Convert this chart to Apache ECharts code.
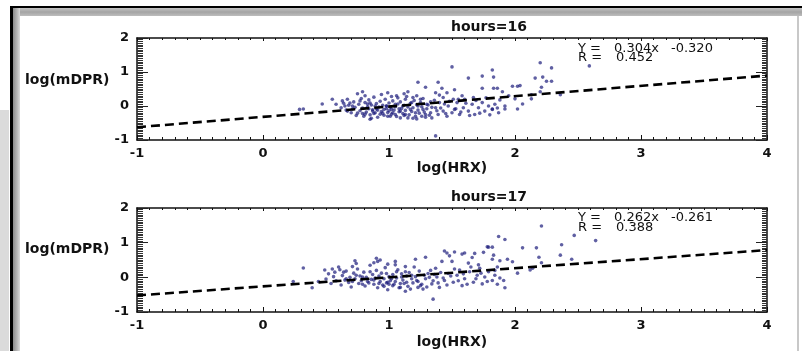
<!DOCTYPE html>
<html>
<head>
<meta charset="utf-8">
<script src="https://cdn.jsdelivr.net/npm/echarts@6/dist/echarts.min.js"></script>
<style>
html,body{margin:0;padding:0;background:#fff;}
#chart{width:802px;height:351px;}
</style>
</head>
<body>
<div id="chart"></div>
<script>
// ---------- data ----------
const panelTitles = ['hours=16', 'hours=17'];
const xAxisName = 'log(HRX)';
const yAxisName = 'log(mDPR)';
const xTicks = [-1, 0, 1, 2, 3, 4];
const yTicks = [-1, 0, 1, 2];
const fit16 = { slope: 0.304, intercept: -0.320, r: '0.452' };
const fit17 = { slope: 0.262, intercept: -0.261, r: '0.388' };

const points16 = [
[0.29,-0.10],[0.32,-0.09],[0.47,0.06],[0.55,0.20],[0.58,0.05],
[0.63,0.15],[0.67,0.20],[0.69,0.09],[0.65,0.00],[0.71,0.00],[0.71,-0.09],[0.75,0.36],[0.79,0.42],[0.81,0.30],
[0.77,0.15],[0.83,0.06],[0.85,0.09],[0.87,-0.15],[0.89,0.00],[0.90,-0.09],[0.93,-0.24],[0.95,-0.21],[0.98,0.00],
[0.99,-0.30],[0.85,-0.39],[0.81,-0.24],[0.75,-0.21],[0.67,-0.15],
[0.99,0.39],[1.07,0.24],[1.15,0.42],[1.22,0.30],[1.23,0.70],[1.29,0.55],[1.39,0.70],[1.42,0.52],[1.37,0.39],
[1.46,0.39],[1.52,0.48],[1.50,1.15],[1.63,0.82],[1.74,0.88],[1.82,1.06],[1.83,0.52],[1.74,0.52],[1.37,-0.88],
[0.98,0.00],[1.02,-0.10],[1.05,0.05],[1.09,-0.15],[1.11,0.00],[1.13,-0.25],[1.17,-0.10],[1.18,0.10],[1.21,-0.20],
[1.23,0.00],[1.26,-0.30],[1.27,-0.10],[1.30,0.05],[1.33,-0.20],[1.34,-0.35],[1.37,-0.05],[1.39,-0.25],[1.40,0.10],
[1.43,-0.15],[1.46,-0.30],[1.47,0.00],[1.50,-0.20],[1.52,-0.10],[1.54,0.10],[1.56,-0.25],[1.59,-0.05],[1.60,0.20],
[1.63,-0.15],[1.66,0.05],[1.68,-0.25],[1.71,-0.05],[1.74,0.10],[1.76,-0.15],[1.79,0.00],[1.82,-0.10],[1.84,0.05],
[1.05,-0.25],[1.09,-0.35],[1.01,-0.30],[1.15,-0.35],[1.22,-0.38],[1.29,-0.25],[1.25,0.20],[1.19,0.25],[1.13,0.20],
[1.06,0.30],[1.58,0.30],[1.51,0.20],[1.67,0.25],[1.43,0.25],
[0.62,-0.05],[0.64,0.08],[0.66,-0.12],[0.68,0.02],[0.70,-0.20],[0.72,0.12],[0.73,-0.04],[0.74,-0.28],[0.76,0.05],
[0.77,-0.14],[0.78,0.22],[0.79,-0.06],[0.80,-0.30],[0.81,0.10],[0.82,-0.18],[0.83,-0.02],[0.84,0.18],[0.85,-0.26],
[0.86,0.03],[0.87,-0.11],[0.88,0.26],[0.89,-0.20],[0.90,0.07],[0.91,-0.33],[0.92,-0.03],[0.93,0.14],[0.94,-0.16],
[0.95,0.02],[0.96,-0.27],[0.97,0.20],[0.98,-0.08],[0.99,-0.19],[1.00,0.09],[1.01,-0.04],[1.02,-0.24],[1.03,0.15],
[1.04,-0.12],[1.05,-0.02],[1.06,-0.31],[1.07,0.06],[1.08,-0.17],[1.09,0.12],[1.10,-0.07],[1.11,-0.22],[1.12,0.02],
[1.13,-0.13],[1.14,0.28],[1.15,-0.03],[1.16,-0.26],[1.17,0.08],[1.18,-0.16],[1.19,-0.05],[1.20,0.16],[1.21,-0.30],
[1.22,0.04],[1.23,-0.12],[1.24,-0.21],[1.25,0.10],[1.26,-0.02],[1.27,0.22],[1.28,-0.18],[1.30,-0.08],[1.31,0.03],
[1.32,-0.27],[1.33,0.12],[1.34,-0.04],[1.36,0.17],[1.38,-0.14],[1.40,0.32],[1.41,-0.06],[1.44,0.06],[1.45,-0.22],
[1.48,0.14],[1.53,-0.08],[1.55,0.20],[1.57,-0.18],[1.61,0.08],[1.64,-0.28],[1.69,0.16],[1.72,-0.21],[1.77,0.24],
[1.80,-0.26],[0.94,0.34],[1.12,0.36],[1.02,0.28],[0.86,-0.36],[1.19,-0.36],[1.29,-0.33],
[0.88,-0.22],[0.91,-0.12],[0.96,-0.10],[1.00,-0.14],[1.03,-0.20],[1.08,-0.08],[1.12,-0.28],[0.84,-0.08],[0.79,-0.22],
[2.20,1.27],[2.29,1.12],[2.59,1.18],[1.83,0.85],[2.16,0.82],[2.22,0.85],[2.25,0.73],[2.29,0.73],[1.86,0.52],[1.90,0.42],
[1.98,0.58],[2.02,0.58],[2.21,0.55],[2.20,0.42],[2.13,0.33],[2.36,0.33],[1.82,-0.09],[1.86,-0.06],[1.92,0.00],
[1.92,-0.09],[2.02,-0.09],[2.06,0.06],[2.13,0.21],[2.00,0.21],[2.04,0.60],[1.88,0.18],[1.95,0.30],[1.87,-0.20]
];

const points17 = [
[0.24,-0.12],[0.32,0.27],[0.39,-0.30],[0.44,-0.12],[0.49,0.21],[0.55,0.24],[0.57,0.15],[0.61,0.22],[0.64,0.15],
[0.71,0.31],[0.73,0.48],[0.90,0.55],[0.91,0.46],[0.85,0.16],[0.79,0.01],[0.74,0.06],[0.66,-0.04],
[1.44,0.76],[1.29,0.58],[1.58,0.67],[1.66,0.57],[1.68,0.69],[1.79,0.87],[1.82,0.87],[1.75,0.72],[1.35,-0.63],
[1.48,0.62],[1.50,0.46],[1.05,0.46],[0.99,0.38],[1.13,0.31],[1.21,0.52],[1.42,0.46],[1.63,0.41],[1.71,0.36],[1.82,0.52],
[0.98,0.11],[1.02,-0.04],[1.06,0.16],[1.10,0.01],[1.14,-0.14],[1.18,0.06],[1.22,-0.09],[1.25,-0.24],[1.29,-0.04],
[1.31,0.11],[1.34,-0.19],[1.38,0.01],[1.40,-0.29],[1.44,-0.09],[1.47,0.11],[1.51,-0.14],[1.54,0.06],[1.58,-0.24],
[1.60,-0.04],[1.64,0.16],[1.67,-0.14],[1.70,0.06],[1.74,-0.19],[1.76,0.01],[1.79,0.16],[1.82,-0.09],[1.84,0.06],
[1.03,-0.24],[1.09,-0.29],[1.17,-0.34],[1.23,-0.29],[1.27,-0.34],[0.99,-0.14],[1.13,0.16],[1.37,0.26],[1.56,0.21],[1.72,0.26],
[0.50,-0.05],[0.52,0.10],[0.54,-0.18],[0.56,0.02],[0.58,-0.10],[0.60,0.30],[0.62,-0.22],[0.63,0.05],[0.65,-0.08],
[0.66,0.18],[0.68,-0.15],[0.69,0.00],[0.70,-0.28],[0.72,0.12],[0.73,-0.04],[0.75,0.24],[0.76,-0.18],[0.77,0.04],
[0.78,-0.10],[0.80,0.15],[0.81,-0.25],[0.82,0.00],[0.83,-0.12],[0.85,0.35],[0.86,-0.06],[0.87,0.08],[0.88,-0.20],
[0.89,-0.02],[0.90,0.20],[0.91,-0.30],[0.92,0.04],[0.93,-0.12],[0.94,0.12],[0.95,-0.22],[0.96,-0.04],[0.97,0.28],
[0.98,-0.16],[1.00,0.02],[1.01,-0.10],[1.03,0.08],[1.04,-0.20],[1.06,-0.02],[1.07,0.22],[1.08,-0.30],[1.10,0.10],
[1.11,-0.08],[1.12,-0.18],[1.14,0.04],[1.15,-0.26],[1.16,0.14],[1.18,-0.04],[1.19,-0.16],[1.20,0.30],[1.21,0.02],
[1.23,-0.12],[1.24,0.18],[1.26,-0.20],[1.28,0.06],[1.30,-0.28],[1.32,0.00],[1.33,0.20],[1.35,-0.10],[1.36,0.08],
[1.39,-0.16],[1.41,0.14],[1.43,-0.02],[1.46,-0.22],[1.49,0.04],[1.52,0.24],[1.55,-0.10],[1.59,0.10],[1.62,-0.20],
[1.65,0.30],[1.69,-0.04],[1.73,0.12],[1.78,-0.12],[0.88,0.42],[0.93,0.50],[1.05,0.36],[0.74,0.40],[0.99,-0.36],[1.13,-0.40],
[0.84,-0.16],[0.88,-0.08],[0.92,-0.18],[0.96,-0.26],[1.00,-0.20],[1.05,-0.12],[1.09,-0.18],[0.79,-0.20],[0.71,-0.12],
[2.21,1.48],[2.47,1.21],[2.64,1.06],[1.87,1.18],[1.92,1.09],[2.06,0.85],[2.17,0.85],[2.37,0.94],[1.78,0.88],
[2.19,0.58],[2.36,0.64],[2.45,0.52],[2.21,0.42],[2.12,0.21],[2.02,0.12],[1.92,-0.30],[1.91,-0.09],
[1.46,0.70],[1.52,0.73],[1.60,0.70],[1.88,0.48],[1.94,0.52],[1.98,0.45],[1.83,0.64],[1.86,0.30],[1.84,0.20],
[1.88,-0.02],[1.86,-0.20],[2.14,0.26]
];

// ---------- chart ----------
const FONT = 'DejaVu Sans';
const INK = '#111';
const grids = [
  { left: 137, right: 35, top: 38, height: 102 },
  { left: 137, right: 35, top: 208, height: 104 }
];

function xAx(gi, pos, labels) {
  return {
    type: 'value', gridIndex: gi, position: pos,
    min: xTicks[0], max: xTicks[xTicks.length - 1], interval: 1,
    axisLine: { show: true, onZero: false, lineStyle: { color: INK, width: 1.5 } },
    axisTick: { show: true, inside: true, length: pos === 'bottom' ? 5 : 3, lineStyle: { color: INK, width: 1 } },
    minorTick: { show: true, splitNumber: 10, length: pos === 'bottom' ? 3 : 2, lineStyle: { color: INK, width: 1 } },
    splitLine: { show: false },
    axisLabel: { show: labels, margin: 7, color: INK, fontFamily: FONT, fontWeight: 'bold', fontSize: 13 },
    name: labels ? xAxisName : '', nameLocation: 'middle', nameGap: gi === 0 ? 21 : 23,
    nameTextStyle: { color: INK, fontFamily: FONT, fontWeight: 'bold', fontSize: 14 }
  };
}
function yAx(gi, pos, labels) {
  return {
    type: 'value', gridIndex: gi, position: pos,
    min: yTicks[0], max: yTicks[yTicks.length - 1], interval: 1,
    axisLine: { show: true, onZero: false, lineStyle: { color: INK, width: 1.5 } },
    axisTick: { show: true, inside: true, length: 11, lineStyle: { color: '#222', width: 1 } },
    minorTick: { show: true, splitNumber: 20, length: pos === 'left' ? 6 : 5, lineStyle: { color: '#333', width: 1 } },
    splitLine: { show: false },
    axisLabel: { show: labels, margin: 8, color: INK, fontFamily: FONT, fontWeight: 'bold', fontSize: 13 }
  };
}

function fitLine(f) {
  return [[xTicks[0], f.slope * xTicks[0] + f.intercept],
          [xTicks[xTicks.length - 1], f.slope * xTicks[xTicks.length - 1] + f.intercept]];
}

const scatterStyle = { color: 'rgba(22,22,120,0.85)' };
const lineStyle = { color: '#000', width: 2.6, type: [9, 5] };

function annot(gi, f) {
  const top = grids[gi].top;
  const yRow = top + (gi === 0 ? 5 : 4);
  const rRow = top + 13;
  const st = (x, y, t) => ({ type: 'text', left: x, top: y, z: 10,
    style: { text: t, fill: INK, font: 'normal 13px "DejaVu Sans"' } });
  const fmt = v => (v < 0 ? '-' : '') + Math.abs(v).toFixed(3);
  return [
    st(578, yRow - 1, 'Y ='), st(614, yRow - 1, fmt(f.slope) + 'x'), st(671, yRow - 1, fmt(f.intercept)),
    st(578, rRow, 'R ='), st(616, rRow, f.r)
  ];
}

const frame = [
  { type: 'rect', shape: { x: 0, y: 110, width: 9, height: 241 }, style: { fill: 'rgba(190,190,190,0.55)' }, z: -1 },
  { type: 'rect', shape: { x: 10, y: 6, width: 792, height: 2 }, style: { fill: '#000' }, z: -1 },
  { type: 'rect', shape: { x: 12, y: 8, width: 790, height: 8 }, style: { fill: { type: 'linear', x: 0, y: 0, x2: 0, y2: 1,
      colorStops: [{ offset: 0, color: '#c4c4c4' }, { offset: 0.5, color: '#a4a4a4' }, { offset: 1, color: '#bdbdbd' }] } }, z: -1 },
  { type: 'rect', shape: { x: 10, y: 6, width: 3, height: 345 }, style: { fill: '#000' }, z: -1 },
  { type: 'rect', shape: { x: 13, y: 8, width: 7, height: 343 }, style: { fill: { type: 'linear', x: 0, y: 0, x2: 1, y2: 0,
      colorStops: [{ offset: 0, color: '#8c8c8c' }, { offset: 0.6, color: '#b8b8b8' }, { offset: 1, color: '#dcdcdc' }] } }, z: -1 },
  { type: 'rect', shape: { x: 797, y: 16, width: 2, height: 335 }, style: { fill: '#c8c8c8' }, z: -1 }
];

const texts = [];
[0, 1].forEach(gi => {
  const top = grids[gi].top;
  texts.push({ type: 'text', left: 451, top: top - 18, z: 10,
    style: { text: panelTitles[gi], fill: INK, font: 'bold 14px "DejaVu Sans"', textAlign: 'center' } });
  texts.push({ type: 'text', left: 25, top: top + (gi === 0 ? 35 : 34), z: 10,
    style: { text: yAxisName, fill: INK, font: 'bold 14px "DejaVu Sans"' } });
});

const chart = echarts.init(document.getElementById('chart'), null, { renderer: 'canvas' });
chart.setOption({
  backgroundColor: '#fff',
  animation: false,
  grid: grids,
  xAxis: [xAx(0, 'bottom', true), xAx(0, 'top', false), xAx(1, 'bottom', true), xAx(1, 'top', false)],
  yAxis: [yAx(0, 'left', true), yAx(0, 'right', false), yAx(1, 'left', true), yAx(1, 'right', false)],
  series: [
    { type: 'scatter', xAxisIndex: 0, yAxisIndex: 0, data: points16, symbol: 'circle', symbolSize: 3.6, itemStyle: scatterStyle, silent: true },
    { type: 'line', xAxisIndex: 0, yAxisIndex: 0, data: fitLine(fit16), showSymbol: false, lineStyle: lineStyle, silent: true, z: 3 },
    { type: 'scatter', xAxisIndex: 2, yAxisIndex: 2, data: points17, symbol: 'circle', symbolSize: 3.6, itemStyle: scatterStyle, silent: true },
    { type: 'line', xAxisIndex: 2, yAxisIndex: 2, data: fitLine(fit17), showSymbol: false, lineStyle: lineStyle, silent: true, z: 3 }
  ],
  graphic: frame.concat(texts, annot(0, fit16), annot(1, fit17))
});
</script>
</body>
</html>
